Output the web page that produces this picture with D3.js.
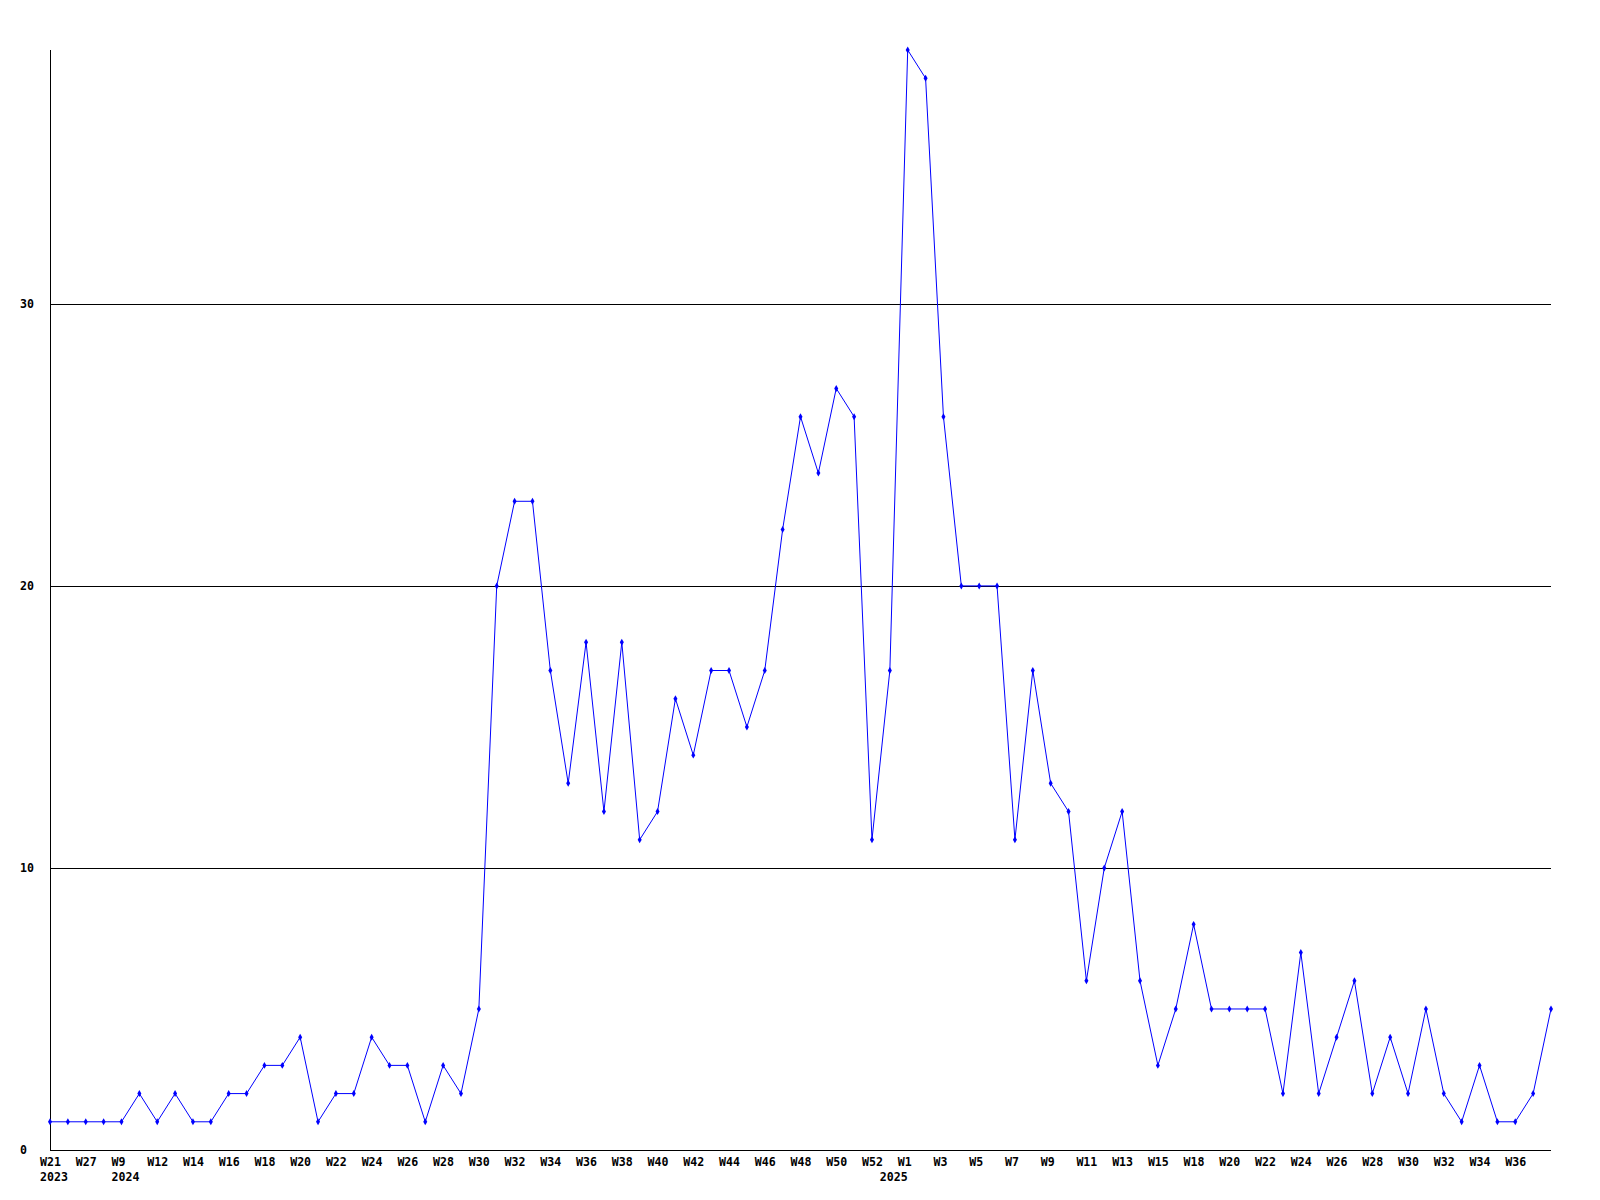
<!DOCTYPE html>
<html lang="en">
<head>
    <meta charset="UTF-8">
    <title>Weekly counts</title>
    <script src="https://d3js.org/d3.v7.min.js"></script>
    <style>
        body, html {
            margin: 0;
            background-color: #ffffff;
            overflow: hidden;
        }
        text {
            font-family: "DejaVu Sans Mono", monospace;
            font-weight: bold;
            font-size: 11.6px;
            fill: #000000;
        }
        .grid line, .axis-line {
            stroke: #000000;
            stroke-width: 1px;
            shape-rendering: crispEdges;
        }
        .series {
            fill: none;
            stroke: #0000ff;
            stroke-width: 1px;
        }
        .marker {
            fill: #0000ff;
        }
    </style>
</head>
<body>
    <script>
        // week of each point (only every second one gets a label on the axis)
        const weeks = [
            "W21", "W25", "W27", "W30", "W9", "W11", "W12", "W13", "W14", "W15",
            "W16", "W17", "W18", "W19", "W20", "W21", "W22", "W23", "W24", "W25",
            "W26", "W27", "W28", "W29", "W30", "W31", "W32", "W33", "W34", "W35",
            "W36", "W37", "W38", "W39", "W40", "W41", "W42", "W43", "W44", "W45",
            "W46", "W47", "W48", "W49", "W50", "W51", "W52", "W53", "W1", "W2",
            "W3", "W4", "W5", "W6", "W7", "W8", "W9", "W10", "W11", "W12",
            "W13", "W14", "W15", "W17", "W18", "W19", "W20", "W21", "W22", "W23",
            "W24", "W25", "W26", "W27", "W28", "W29", "W30", "W31", "W32", "W33",
            "W34", "W35", "W36", "W37", "W38"
        ];
        // year shown under the first point of each year
        const years = { 0: "2023", 4: "2024", 47: "2025" };

        const counts = [
            1, 1, 1, 1, 1, 2, 1, 2, 1, 1,
            2, 2, 3, 3, 4, 1, 2, 2, 4, 3,
            3, 1, 3, 2, 5, 20, 23, 23, 17, 13,
            18, 12, 18, 11, 12, 16, 14, 17, 17, 15,
            17, 22, 26, 24, 27, 26, 11, 17, 39, 38,
            26, 20, 20, 20, 11, 17, 13, 12, 6, 10,
            12, 6, 3, 5, 8, 5, 5, 5, 5, 2,
            7, 2, 4, 6, 2, 4, 2, 5, 2, 1,
            3, 1, 1, 2, 5
        ];

        const yTicks = [0, 10, 20, 30];

        const width = 1600, height = 1200;
        const plotLeft = 50, plotRight = 1551, plotTop = 50, plotBottom = 1150;

        const svg = d3.select("body").append("svg")
            .attr("width", width)
            .attr("height", height);

        const x = d3.scalePoint()
            .domain(d3.range(counts.length))
            .range([plotLeft, plotRight]);

        const y = d3.scaleLinear()
            .domain([0, 39])
            .range([plotBottom, plotTop]);

        // horizontal grid lines
        svg.append("g").attr("class", "grid")
            .selectAll("line")
            .data(yTicks.filter(t => t > 0))
            .enter().append("line")
            .attr("x1", plotLeft)
            .attr("x2", plotRight)
            .attr("y1", d => Math.round(y(d)) + 0.5)
            .attr("y2", d => Math.round(y(d)) + 0.5);

        // axes
        svg.append("line").attr("class", "axis-line")
            .attr("x1", plotLeft + 0.5).attr("x2", plotLeft + 0.5)
            .attr("y1", plotTop).attr("y2", plotBottom);
        svg.append("line").attr("class", "axis-line")
            .attr("x1", plotLeft).attr("x2", plotRight)
            .attr("y1", plotBottom + 0.5).attr("y2", plotBottom + 0.5);

        // y labels
        svg.append("g")
            .selectAll("text")
            .data(yTicks)
            .enter().append("text")
            .attr("x", 20)
            .attr("y", d => y(d))
            .attr("dy", "0.35em")
            .text(d => d);

        // x labels, every second week, last one left out
        const labelIdx = d3.range(0, counts.length - 1, 2);
        svg.append("g")
            .selectAll("text")
            .data(labelIdx)
            .enter().append("text")
            .attr("x", d => x(d) - 10)
            .attr("y", 1166)
            .text(d => weeks[d]);

        svg.append("g")
            .selectAll("text")
            .data(Object.keys(years).map(Number))
            .enter().append("text")
            .attr("x", d => x(d) - 10)
            .attr("y", 1181)
            .text(d => years[d]);

        // series line
        const line = d3.line()
            .x((d, i) => x(i))
            .y(d => y(d));

        svg.append("path")
            .datum(counts)
            .attr("class", "series")
            .attr("d", line);

        svg.append("g")
            .selectAll("path")
            .data(counts)
            .enter().append("path")
            .attr("class", "marker")
            .attr("transform", (d, i) => `translate(${x(i)},${y(d)})`)
            .attr("d", d3.symbol().type(d3.symbolDiamond).size(14));
    </script>
</body>
</html>
